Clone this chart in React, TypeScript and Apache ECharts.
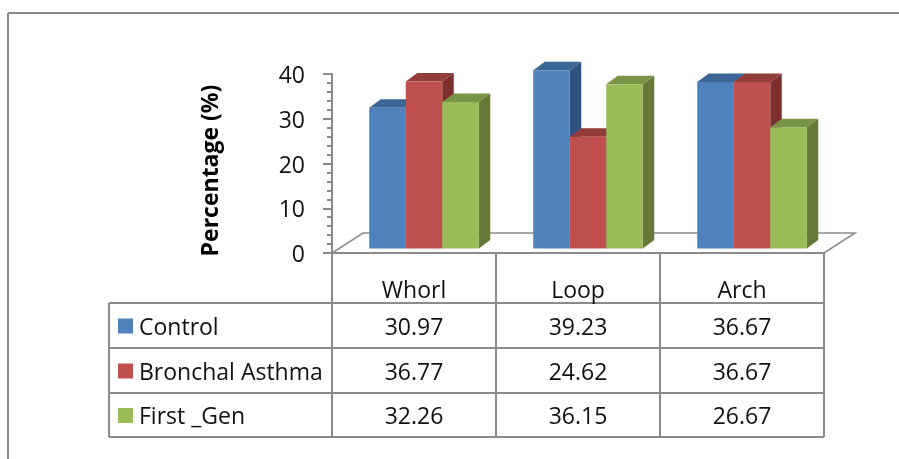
import React, { useEffect, useRef } from "react";
import * as echarts from "echarts";

const categories = ["Whorl", "Loop", "Arch"];
const seriesNames = ["Control", "Bronchal Asthma", "First _Gen"];
const controlValues = [30.97, 39.23, 36.67];
const bronchalValues = [36.77, 24.62, 36.67];
const firstGenValues = [32.26, 36.15, 26.67];
const yMin = 0;
const yMax = 40;
const yInterval = 10;

const allValues = [controlValues, bronchalValues, firstGenValues];

const FRONT = ["#4F81BD", "#C0504D", "#9BBB59"];
const TOP = ["#3C6695", "#933D3B", "#7A9447"];
const SIDE = ["#2F5281", "#7B2F2E", "#657A37"];
const LINE = "#8A8A8A";
const FONT = "'Open Sans', 'DejaVu Sans', sans-serif";

const GRID_LEFT = 332;
const GRID_TOP = 74;
const GRID_W = 492;
const GRID_H = 179;
const COL_W = GRID_W / 3;
const TABLE_LEFT = 109;
const ROW_Y = [253, 303, 348, 393, 437];

export default function App() {
  const ref = useRef<HTMLDivElement>(null);
  useEffect(() => {
    document.body.style.margin = "0";
    document.body.style.overflow = "hidden";
    if (!ref.current) return;
    const chart = echarts.init(ref.current, undefined, { renderer: "svg" });

    const DX = 11.5;
    const DY = 8.5;
    const makeRender = (s: number) => (params: any, api: any) => {
      const ci = api.value(0);
      const v = api.value(1);
      const c0 = api.coord([ci, 0]);
      const cv = api.coord([ci, v]);
      const band = api.size([1, 0])[0];
      const bw = band * 0.2226;
      const x0 = c0[0] + band * 0.061 + (s - 1.5) * bw;
      const yb = c0[1] - 4.4;
      const yt = yb - (c0[1] - cv[1]) * 1.016;
      return {
        type: "group",
        children: [
          {
            type: "polygon",
            shape: {
              points: [
                [x0, yt],
                [x0 + bw, yt],
                [x0 + bw + DX, yt - DY],
                [x0 + DX, yt - DY],
              ],
            },
            style: { fill: TOP[s] },
          },
          {
            type: "polygon",
            shape: {
              points: [
                [x0 + bw, yt],
                [x0 + bw + DX, yt - DY],
                [x0 + bw + DX, yb - DY],
                [x0 + bw, yb],
              ],
            },
            style: { fill: SIDE[s] },
          },
          {
            type: "rect",
            shape: { x: x0, y: yt, width: bw, height: yb - yt },
            style: { fill: FRONT[s] },
          },
        ],
      };
    };

    const graphics: any[] = [];
    const hline = (x1: number, x2: number, y: number, z = 5) =>
      graphics.push({
        type: "line",
        shape: { x1, y1: y, x2, y2: y },
        style: { stroke: LINE, lineWidth: 2 },
        z,
      });
    const vline = (x: number, y1: number, y2: number, z = 5) =>
      graphics.push({
        type: "line",
        shape: { x1: x, y1, x2: x, y2 },
        style: { stroke: LINE, lineWidth: 2 },
        z,
      });
    // outer border (only top and left edges are inside the picture)
    hline(8, 899, 13, 0);
    vline(8, 13, 459, 0);
    // floor
    graphics.push({
      type: "polygon",
      shape: {
        points: [
          [GRID_LEFT, ROW_Y[0]],
          [GRID_LEFT + GRID_W, ROW_Y[0]],
          [GRID_LEFT + GRID_W + 31, ROW_Y[0] - 20],
          [GRID_LEFT + 31, ROW_Y[0] - 20],
        ],
      },
      style: { fill: "#fff", stroke: LINE, lineWidth: 1.5 },
      z: 0,
    });
    hline(GRID_LEFT, GRID_LEFT + GRID_W, ROW_Y[0]);
    for (let r = 1; r < ROW_Y.length; r++) hline(TABLE_LEFT, GRID_LEFT + GRID_W, ROW_Y[r]);
    vline(TABLE_LEFT, ROW_Y[1], ROW_Y[4]);
    for (let c = 0; c <= 3; c++) vline(GRID_LEFT + c * COL_W, ROW_Y[0], ROW_Y[4]);

    categories.forEach((cat, i) => {
      graphics.push({
        type: "text",
        x: GRID_LEFT + (i + 0.5) * COL_W,
        y: 289,
        style: {
          text: cat,
          font: `23px ${FONT}`,
          fill: "#111",
          align: "center",
          verticalAlign: "middle",
        },
        z: 6,
      });
    });
    seriesNames.forEach((name, s) => {
      const cy = (ROW_Y[s + 1] + ROW_Y[s + 2]) / 2;
      graphics.push({
        type: "rect",
        shape: { x: 118, y: cy - 7, width: 15, height: 15 },
        style: { fill: FRONT[s] },
        z: 6,
      });
      graphics.push({
        type: "text",
        x: 139,
        y: cy,
        style: {
          text: name,
          font: `23px ${FONT}`,
          fill: "#111",
          align: "left",
          verticalAlign: "middle",
        },
        z: 6,
      });
      allValues[s].forEach((v, i) => {
        graphics.push({
          type: "text",
          x: GRID_LEFT + (i + 0.5) * COL_W,
          y: cy,
          style: {
            text: v.toFixed(2),
            font: `23px ${FONT}`,
            fill: "#111",
            align: "center",
            verticalAlign: "middle",
          },
          z: 6,
        });
      });
    });

    chart.setOption({
      animation: false,
      grid: { left: GRID_LEFT, top: GRID_TOP, width: GRID_W, height: GRID_H },
      xAxis: {
        type: "category",
        data: categories,
        show: false,
      },
      yAxis: {
        type: "value",
        min: yMin,
        max: yMax,
        interval: yInterval,
        name: "Percentage (%)",
        nameLocation: "middle",
        nameRotate: 90,
        nameGap: 112,
        nameTextStyle: {
          fontFamily: FONT,
          fontSize: 23,
          fontWeight: "bold",
          color: "#000",
          padding: [0, 14, 0, 0],
        },
        axisLine: { show: true, lineStyle: { color: LINE, width: 2 } },
        axisTick: { show: true, length: 9, lineStyle: { color: LINE, width: 2 } },
        minorTick: { show: true, splitNumber: 5, length: 5, lineStyle: { color: LINE, width: 2 } },
        splitLine: { show: false },
        axisLabel: {
          fontFamily: FONT,
          fontSize: 23,
          color: "#111",
          margin: 27,
          padding: [5, 0, 0, 0],
        },
      },
      graphic: graphics,
      series: allValues.map((vals, s) => ({
        type: "custom",
        name: seriesNames[s],
        renderItem: makeRender(s),
        data: vals.map((v, i) => [i, v]),
        encode: { x: 0, y: 1 },
        z: 3,
      })),
    });
    return () => chart.dispose();
  }, []);
  return (
    <div
      ref={ref}
      style={{ position: "fixed", left: 0, top: 0, width: 899, height: 459 }}
    />
  );
}
